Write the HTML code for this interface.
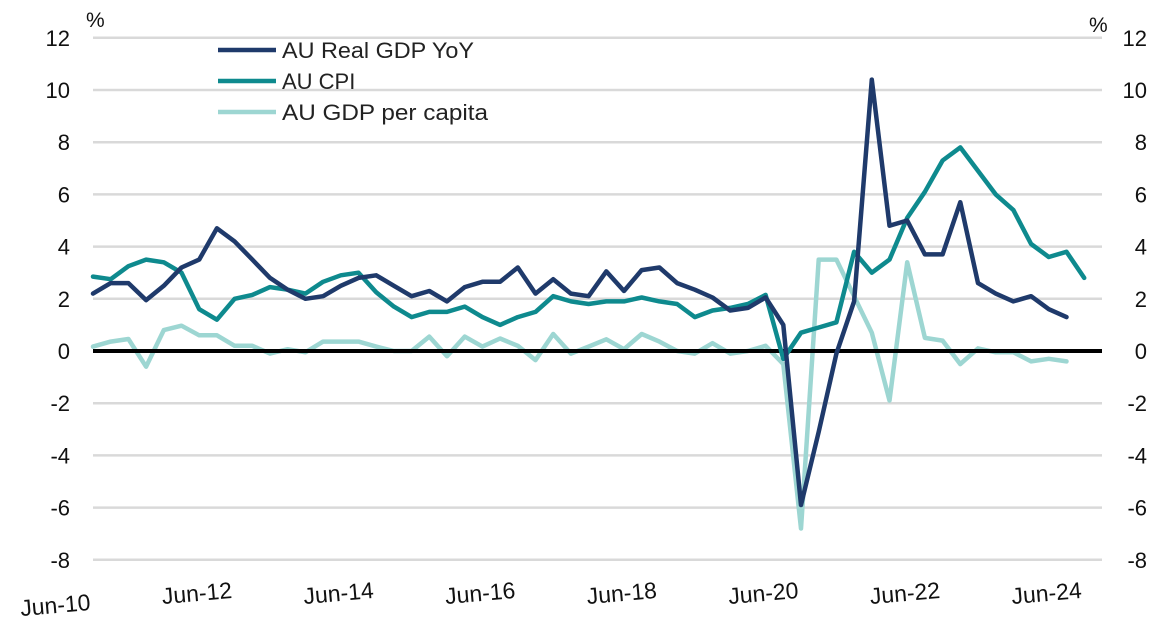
<!DOCTYPE html>
<html><head><meta charset="utf-8"><style>
html,body{margin:0;padding:0;background:#fff;}
svg{display:block;font-family:"Liberation Sans",sans-serif;}
</style></head><body>
<svg id="chart" width="1161" height="630" viewBox="0 0 1161 630">
<g id="grid"></g><g id="axes"></g><g id="series"></g>
<g id="legend">
 <line x1="218" y1="50" x2="276" y2="50" stroke="#1f3a6b" stroke-width="4.5"/>
 <text x="282" y="58" font-size="22" fill="#222" textLength="192" lengthAdjust="spacingAndGlyphs">AU Real GDP YoY</text>
 <line x1="218" y1="81" x2="276" y2="81" stroke="#0e8a8e" stroke-width="4.5"/>
 <text x="282" y="89" font-size="22" fill="#222">AU CPI</text>
 <line x1="218" y1="112" x2="276" y2="112" stroke="#9dd6d2" stroke-width="4.5"/>
 <text x="282" y="120" font-size="22" fill="#222" textLength="206" lengthAdjust="spacingAndGlyphs">AU GDP per capita</text>
</g>
</svg>
<script>
const yTicks=[12,10,8,6,4,2,0,-2,-4,-6,-8];
const xLabels=["Jun-10","Jun-12","Jun-14","Jun-16","Jun-18","Jun-20","Jun-22","Jun-24"];
const xLabelIdx=[0,8,16,24,32,40,48,56];
const gdp=[2.2,2.6,2.6,1.95,2.5,3.2,3.5,4.7,4.2,3.5,2.8,2.35,2.0,2.1,2.5,2.8,2.9,2.5,2.1,2.3,1.9,2.45,2.65,2.65,3.2,2.2,2.75,2.2,2.1,3.05,2.3,3.1,3.2,2.6,2.35,2.05,1.55,1.65,2.05,1.0,-5.9,-3.1,-0.1,1.9,10.4,4.8,5.0,3.7,3.7,5.7,2.6,2.2,1.9,2.1,1.6,1.3];
const cpi=[2.85,2.75,3.25,3.5,3.4,3.0,1.6,1.2,2.0,2.15,2.45,2.35,2.2,2.65,2.9,3.0,2.25,1.7,1.3,1.5,1.5,1.7,1.3,1.0,1.3,1.5,2.1,1.9,1.8,1.9,1.9,2.05,1.9,1.8,1.3,1.55,1.65,1.8,2.15,-0.3,0.7,0.9,1.1,3.8,3.0,3.5,5.1,6.1,7.3,7.8,6.9,6.0,5.4,4.1,3.6,3.8,2.8];
const perCapita=[0.17,0.36,0.46,-0.6,0.8,0.97,0.6,0.6,0.2,0.2,-0.1,0.07,-0.05,0.36,0.36,0.36,0.17,0.0,0.0,0.55,-0.2,0.55,0.17,0.48,0.2,-0.35,0.65,-0.1,0.17,0.45,0.07,0.65,0.36,0.0,-0.1,0.3,-0.1,0.0,0.2,-0.5,-6.8,3.5,3.5,2.1,0.7,-1.9,3.4,0.5,0.4,-0.5,0.1,-0.05,-0.05,-0.4,-0.3,-0.4];
const NS="http://www.w3.org/2000/svg";
function x(i){return 93+i*17.7;}
function y(v){return 351-v*26.1;}
function mk(tag,attrs,parent,txt){const e=document.createElementNS(NS,tag);for(const k in attrs)e.setAttribute(k,attrs[k]);if(txt!==undefined)e.textContent=txt;parent.appendChild(e);return e;}
const grid=document.getElementById('grid'),axes=document.getElementById('axes'),series=document.getElementById('series');
yTicks.forEach(t=>{
 if(t!==0){const g=mk('line',{x1:93,x2:1102,y1:y(t),y2:y(t),stroke:'#d9d9d9','stroke-width':2.5},grid);
 
 }
 const l=mk('text',{x:70,y:y(t)+8,'font-size':22,'text-anchor':'end',fill:'#111'},axes,String(t));
 
 
 const r=mk('text',{x:1147,y:y(t)+8,'font-size':22,'text-anchor':'end',fill:'#111'},axes,String(t));
 
 
});
const p1=mk('text',{x:86,y:27,'font-size':21,fill:'#111'},axes,'%');


const p2=mk('text',{x:1089,y:32,'font-size':21,fill:'#111'},axes,'%');


xLabels.forEach((s,k)=>{
 const cx=x(xLabelIdx[k])-37, cy=k===0?613:601;
 const t=mk('text',{x:cx,y:cy,'font-size':23,'text-anchor':'middle',fill:'#111',transform:'rotate(-5 '+cx+' '+cy+')'},axes,s);
 
 
});
function drawLine(arr,color,name){
 const pts=arr.map((v,i)=>x(i).toFixed(1)+','+y(v).toFixed(1)).join(' ');
 const pl=mk('polyline',{points:pts,fill:'none',stroke:color,'stroke-width':4.5,'stroke-linejoin':'round','stroke-linecap':'round'},series);
 
 
}
drawLine(perCapita,'#9dd6d2','gdp-per-capita-line');
const z=mk('line',{x1:93,x2:1102,y1:y(0),y2:y(0),stroke:'#000','stroke-width':4},series);


drawLine(cpi,'#0e8a8e','cpi-line');
drawLine(gdp,'#1f3a6b','real-gdp-yoy-line');
</script>
</body></html>
